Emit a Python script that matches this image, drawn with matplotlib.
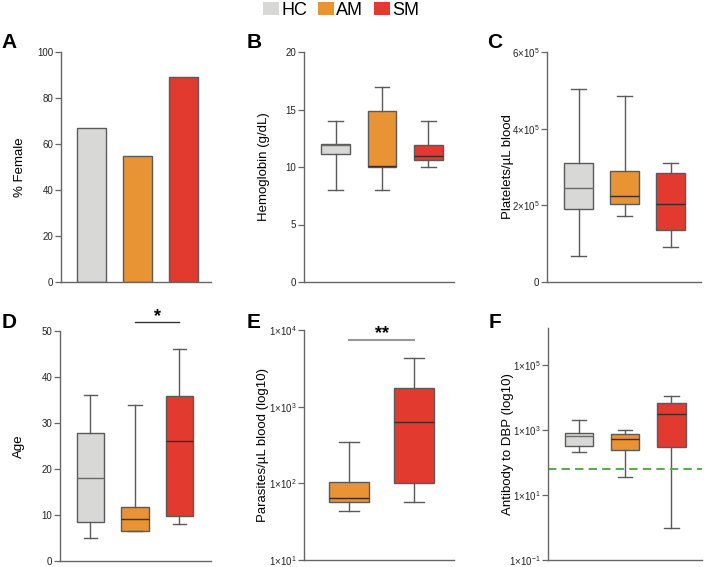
import matplotlib
matplotlib.use('Agg')
import matplotlib.pyplot as plt
from matplotlib.patches import Patch
from matplotlib.ticker import NullLocator

plt.rcParams['font.family'] = ['Liberation Sans', 'DejaVu Sans']
plt.rcParams['mathtext.default'] = 'regular'

# data
groups = ['HC', 'AM', 'SM']
pct_female = [67, 55, 89]

hb_lo = [8, 8, 10]
hb_q1 = [11.1, 10.0, 10.6]
hb_med = [11.9, 10.05, 11.0]
hb_q3 = [12.0, 14.9, 11.9]
hb_hi = [14, 17, 14]

plt_lo = [0.68e5, 1.72e5, 0.91e5]
plt_q1 = [1.90e5, 2.04e5, 1.35e5]
plt_med = [2.46e5, 2.25e5, 2.04e5]
plt_q3 = [3.10e5, 2.89e5, 2.84e5]
plt_hi = [5.03e5, 4.84e5, 3.11e5]

age_lo = [5, 6.5, 8]
age_q1 = [8.5, 6.5, 9.8]
age_med = [18, 9.2, 26]
age_q3 = [27.8, 11.8, 35.9]
age_hi = [36, 34, 46]

par_groups = ['AM', 'SM']
par_lo = [43.5, 56.5]
par_q1 = [57.7, 102]
par_med = [63.7, 625]
par_q3 = [105, 1750]
par_hi = [349, 4270]

ab_lo = [215, 35, 0.97]
ab_q1 = [337, 254, 314]
ab_med = [670, 555, 3260]
ab_q3 = [828, 789, 6930]
ab_hi = [2130, 1000, 11100]
ab_cutoff = 63

# style
colors = {'HC': '#d8d8d6', 'AM': '#e89435', 'SM': '#e23a2f'}
edge = '#5a5a5a'
spine_c = '#666666'

fig = plt.figure(figsize=(7.04, 5.67), dpi=100)
W, H = 704, 567


def make_ax(l, t, r, b):
    ax = fig.add_axes([l / W, 1 - b / H, (r - l) / W, (b - t) / H])
    for s in ['top', 'right']:
        ax.spines[s].set_visible(False)
    for s in ['left', 'bottom']:
        ax.spines[s].set_color(spine_c)
        ax.spines[s].set_linewidth(1.0)
    ax.tick_params(axis='x', bottom=False, labelbottom=False)
    ax.tick_params(axis='y', length=4, width=0.9, color=spine_c,
                   labelsize=7, pad=1.5, labelcolor='#222222')
    return ax


def boxes(ax, names, lo, q1, med, q3, hi, width):
    stats = []
    for i in range(len(names)):
        stats.append(dict(whislo=lo[i], q1=q1[i], med=med[i], q3=q3[i],
                          whishi=hi[i], fliers=[]))
    bp = ax.bxp(stats, positions=range(len(names)), widths=width,
                patch_artist=True, showfliers=False,
                boxprops=dict(edgecolor=edge, linewidth=1.0),
                whiskerprops=dict(color=edge, linewidth=1.0),
                capprops=dict(color=edge, linewidth=1.0),
                medianprops=dict(color='#3a2a28', linewidth=1.0))
    for patch, n in zip(bp['boxes'], names):
        patch.set_facecolor(colors[n])
    if names[0] == 'HC':
        bp['medians'][0].set_color('#6a6a6a')
    return bp


def sci(v, e):
    return r'$%d{\times}10^{%d}$' % (v, e)


# A
ax = make_ax(61, 52, 211, 282)
ax.bar(range(3), pct_female, width=0.63, color=[colors[g] for g in groups],
       edgecolor=edge, linewidth=1.0)
ax.set_xlim(-0.66, 2.6)
ax.set_ylim(0, 100)
ax.set_yticks([0, 20, 40, 60, 80, 100])
ax.set_ylabel('% Female', fontsize=9.5, labelpad=8)

# B
ax = make_ax(304, 52, 454, 282)
boxes(ax, groups, hb_lo, hb_q1, hb_med, hb_q3, hb_hi, 0.62)
ax.set_xlim(-0.68, 2.55)
ax.set_ylim(0, 20)
ax.set_yticks([0, 5, 10, 15, 20])
ax.set_ylabel('Hemoglobin (g/dL)', fontsize=9.5, labelpad=11)

# C
ax = make_ax(547, 52, 701, 282)
boxes(ax, groups, plt_lo, plt_q1, plt_med, plt_q3, plt_hi, 0.63)
ax.set_xlim(-0.685, 2.66)
ax.set_ylim(0, 6e5)
ax.set_yticks([0, 2e5, 4e5, 6e5])
ax.set_yticklabels(['0', sci(2, 5), sci(4, 5), sci(6, 5)])
ax.set_ylabel('Platelets/µL blood', fontsize=9.5, labelpad=-1.5)

# D
ax = make_ax(60, 331, 211, 561)
boxes(ax, groups, age_lo, age_q1, age_med, age_q3, age_hi, 0.61)
ax.set_xlim(-0.685, 2.71)
ax.set_ylim(0, 50)
ax.set_yticks([0, 10, 20, 30, 40, 50])
ax.set_ylabel('Age', fontsize=9.5, labelpad=12)
ax.plot([1, 2], [52, 52], color='#333333', lw=1.0, clip_on=False)
ax.text(1.5, 51.2, '*', ha='center', va='bottom', fontsize=13,
        fontweight='bold')

# E
ax = make_ax(304, 330, 454, 560)
boxes(ax, par_groups, par_lo, par_q1, par_med, par_q3, par_hi, 0.62)
ax.set_xlim(-0.705, 1.62)
ax.set_yscale('log')
ax.set_ylim(10, 1e4)
ax.set_yticks([1e1, 1e2, 1e3, 1e4])
ax.set_yticklabels([sci(1, 1), sci(1, 2), sci(1, 3), sci(1, 4)])
ax.yaxis.set_minor_locator(NullLocator())
ax.set_ylabel('Parasites/µL blood (log10)', fontsize=9.5, labelpad=-0.5)
ax.plot([0, 1], [7400, 7400], color='#999999', lw=1.5, clip_on=False)
ax.text(0.5, 6900, '**', ha='center', va='bottom', fontsize=13,
        fontweight='bold')

# F
ax = make_ax(548, 328, 702, 560)
boxes(ax, groups, ab_lo, ab_q1, ab_med, ab_q3, ab_hi, 0.61)
ax.set_xlim(-0.67, 2.66)
ax.set_yscale('log')
ax.set_ylim(0.1, 10 ** 6.15)
ax.set_yticks([1e-1, 1e1, 1e3, 1e5])
ax.set_yticklabels([sci(1, -1), sci(1, 1), sci(1, 3), sci(1, 5)])
ax.yaxis.set_minor_locator(NullLocator())
ax.set_ylabel('Antibody to DBP (log10)', fontsize=9.5, labelpad=-3.5)
ax.axhline(ab_cutoff, color='#5aad4a', lw=1.5, ls=(0, (4, 2.5)))

# panel letters
for letter, x, y in [('A', 1, 48), ('B', 247, 48), ('C', 487, 48),
                     ('D', 2, 328), ('E', 247, 328), ('F', 489, 328)]:
    fig.text(x / W, 1 - y / H, letter, fontsize=15, fontweight='bold',
             ha='left', va='baseline')

# legend
handles = [Patch(facecolor=colors[g], edgecolor='none') for g in groups]
fig.legend(handles, groups, loc='center', bbox_to_anchor=(341 / W, 1 - 10.5 / H),
           ncol=3, frameon=False, fontsize=13, handlelength=0.9,
           handleheight=0.75, handletextpad=0.1, columnspacing=0.6,
           borderaxespad=0, borderpad=0)

fig.savefig('out.png', dpi=100)
